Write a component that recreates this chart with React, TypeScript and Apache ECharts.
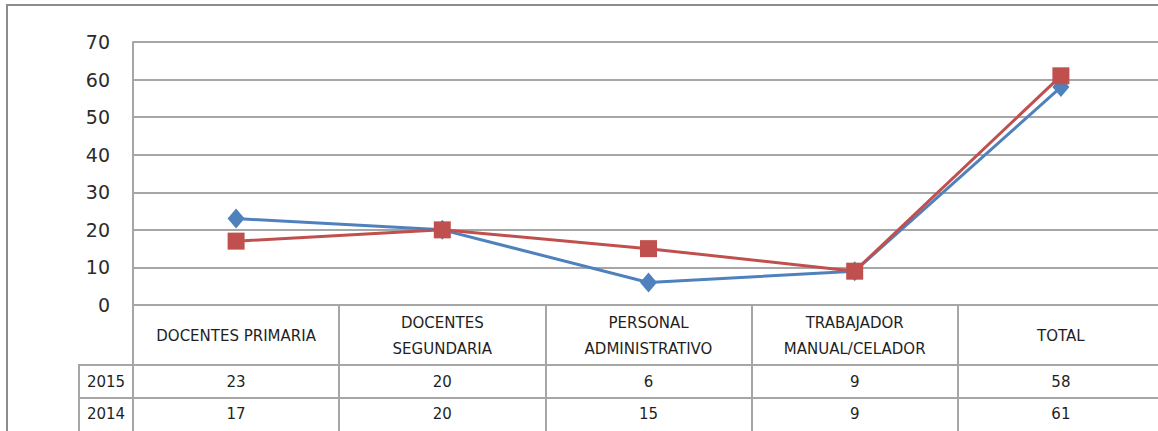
import React, { useEffect, useRef } from "react";
import * as echarts from "echarts";

const categories = [
  "DOCENTES PRIMARIA",
  "DOCENTES\nSEGUNDARIA",
  "PERSONAL\nADMINISTRATIVO",
  "TRABAJADOR\nMANUAL/CELADOR",
  "TOTAL",
];
const years = ["2015", "2014"];
const values2015 = [23, 20, 6, 9, 58];
const values2014 = [17, 20, 15, 9, 61];
const yTicks = { min: 0, max: 70, interval: 10 };

const GRID = "#a6a6a6";
const TXT = "#1f1f1f";

export default function App() {
  const ref = useRef<HTMLDivElement>(null);
  useEffect(() => {
    if (!ref.current) return;
    const chart = echarts.init(ref.current, undefined, { renderer: "svg" });
    const gridLeft = 133;
    const gridTop = 42;
    const gridBottomY = 305;
    const W = 1180;
    const H = 431;
    const plotRight = 1164;
    const tableFont = {
      fontFamily: "DejaVu Sans",
      fontSize: 15,
      fontWeight: "normal",
      color: TXT,
    };
    const valueAxis = (vals: number[], margin: number) => ({
      type: "category",
      data: categories,
      position: "bottom",
      gridIndex: 0,
      axisLine: { show: false },
      axisTick: { show: false },
      splitLine: { show: false },
      axisLabel: {
        interval: 0,
        margin,
        verticalAlign: "middle",
        formatter: (_v: string, i: number) => String(vals[i]),
        ...tableFont,
      },
    });
    chart.setOption({
      animation: false,
      backgroundColor: "#ffffff",
      grid: {
        left: gridLeft,
        top: gridTop,
        right: W - plotRight,
        bottom: H - gridBottomY,
        containLabel: false,
      },
      xAxis: [
        {
          type: "category",
          data: categories,
          boundaryGap: true,
          axisLine: { show: true, lineStyle: { color: GRID, width: 2 } },
          axisTick: {
            show: true,
            interval: 0,
            alignWithLabel: false,
            inside: false,
            length: H - gridBottomY,
            lineStyle: { color: GRID, width: 2 },
          },
          splitLine: { show: false },
          axisLabel: {
            interval: 0,
            margin: 31,
            verticalAlign: "middle",
            lineHeight: 26,
            ...tableFont,
          },
        },
        valueAxis(values2015, 77),
        valueAxis(values2014, 109),
      ],
      yAxis: {
        type: "value",
        min: yTicks.min,
        max: yTicks.max,
        interval: yTicks.interval,
        axisLine: { show: true, lineStyle: { color: GRID, width: 2 } },
        axisTick: { show: false },
        splitLine: { show: true, lineStyle: { color: GRID, width: 2 } },
        axisLabel: {
          margin: 23,
          fontFamily: "DejaVu Sans",
          fontSize: 19,
          color: "#2b2b2b",
        },
      },
      series: [
        {
          name: years[0],
          type: "line",
          xAxisIndex: 0,
          data: values2015,
          symbol: "diamond",
          symbolSize: [17, 20],
          lineStyle: { color: "#4f81bd", width: 3 },
          itemStyle: { color: "#4f81bd" },
        },
        {
          name: years[1],
          type: "line",
          xAxisIndex: 0,
          data: values2014,
          symbol: "rect",
          symbolSize: 17,
          lineStyle: { color: "#c0504d", width: 3 },
          itemStyle: { color: "#c0504d" },
        },
      ],
      graphic: [
        {
          type: "rect",
          shape: { x: 7, y: 5, width: 1300, height: 600 },
          style: { fill: "none", stroke: "#8c8c8c", lineWidth: 2 },
          silent: true,
        },
        {
          type: "line",
          shape: { x1: 79, y1: 365, x2: plotRight, y2: 365 },
          style: { stroke: GRID, lineWidth: 2 },
        },
        {
          type: "line",
          shape: { x1: 79, y1: 398, x2: plotRight, y2: 398 },
          style: { stroke: GRID, lineWidth: 2 },
        },
        {
          type: "line",
          shape: { x1: 79, y1: 364, x2: 79, y2: H },
          style: { stroke: GRID, lineWidth: 2 },
        },
        {
          type: "text",
          x: 106,
          y: 382,
          style: {
            text: years[0],
            align: "center",
            verticalAlign: "middle",
            font: "15px 'DejaVu Sans'",
            fill: TXT,
          },
        },
        {
          type: "text",
          x: 106,
          y: 414,
          style: {
            text: years[1],
            align: "center",
            verticalAlign: "middle",
            font: "15px 'DejaVu Sans'",
            fill: TXT,
          },
        },
      ],
    });
    return () => chart.dispose();
  }, []);
  return (
    <div
      ref={ref}
      style={{ position: "fixed", left: 0, top: 0, width: 1180, height: 431 }}
    />
  );
}
